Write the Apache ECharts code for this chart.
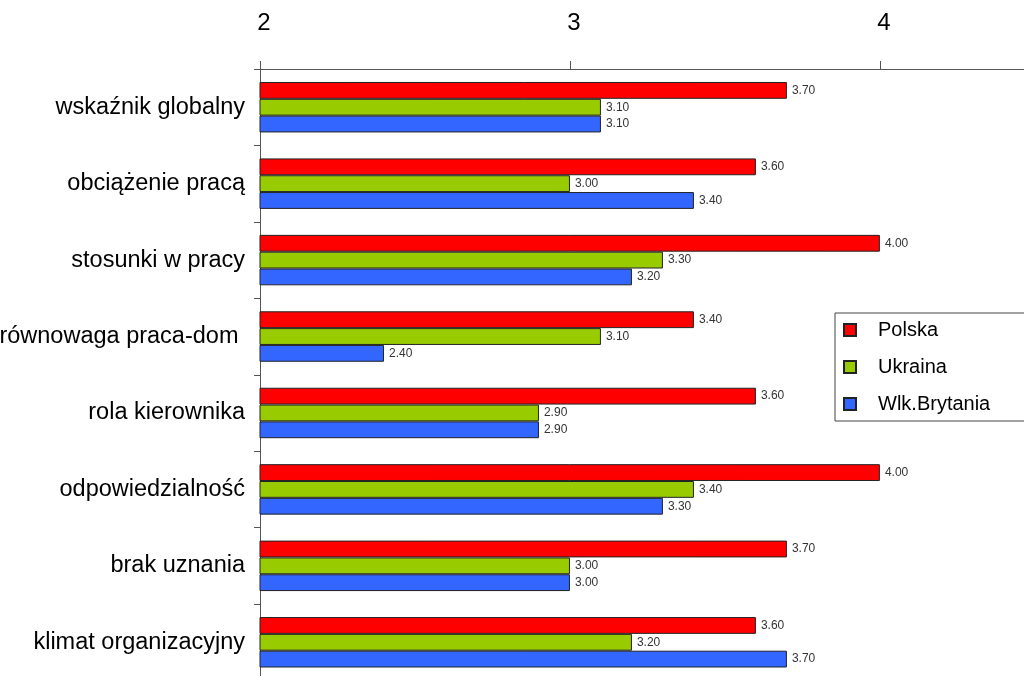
<!DOCTYPE html>
<html><head><meta charset="utf-8">
<script src="https://cdn.jsdelivr.net/npm/echarts@6/dist/echarts.min.js"></script>
<style>html,body{margin:0;padding:0;background:#fff;overflow:hidden}#c{width:1024px;height:676px}</style>
</head><body><div id="c"></div>
<script>
const categories = ['wskaźnik globalny','obciążenie pracą','stosunki w pracy','równowaga praca-dom ','rola kierownika','odpowiedzialność','brak uznania','klimat organizacyjny'];
const seriesNames = ['Polska','Ukraina','Wlk.Brytania'];
const polska = [3.70,3.60,4.00,3.40,3.60,4.00,3.70,3.60];
const ukraina = [3.10,3.00,3.30,3.10,2.90,3.40,3.00,3.20];
const wlkBrytania = [3.10,3.40,3.20,2.40,2.90,3.30,3.00,3.70];
const colors = ['#ff0000','#99cc00','#3366ff'];
const values = [polska, ukraina, wlkBrytania];

const sans = "'Liberation Sans', Arial, sans-serif";
const chart = echarts.init(document.getElementById('c'));
chart.setOption({
  animation: false,
  backgroundColor: '#fff',
  grid: {left: 260, top: 69, right: 0, bottom: -4.5, containLabel: false, outerBoundsMode: 'none'},
  legend: {
    orient: 'vertical', left: 835, top: 313,
    data: seriesNames,
    backgroundColor: '#fff', borderColor: '#444', borderWidth: 1,
    padding: [7, 60, 7, 8],
    itemWidth: 12, itemHeight: 12, itemGap: 17,
    icon: 'rect',
    textStyle: {fontFamily: sans, fontSize: 20, color: '#000', padding: [0,0,0,17]}
  },
  xAxis: {
    type: 'value', position: 'top', min: 2, max: 4.465, interval: 1,
    axisLine: {show: true, lineStyle: {color: '#555', width: 1}},
    axisTick: {show: true, length: 8, lineStyle: {color: '#555'}},
    splitLine: {show: false},
    axisLabel: {margin: 34, fontSize: 24, fontFamily: sans, color: '#000', padding: [0,0,0,8],
      formatter: v => (Math.abs(v - Math.round(v)) < 1e-9 ? String(v) : '')}
  },
  yAxis: {
    type: 'category', data: categories, inverse: true,
    axisLine: {show: true, lineStyle: {color: '#555', width: 1}},
    axisTick: {show: true, length: 6, lineStyle: {color: '#555'}},
    axisLabel: {margin: 15, fontSize: 23.5, fontFamily: sans, color: '#000'}
  },
  series: seriesNames.map((n, i) => ({
    name: n, type: 'bar', data: values[i],
    barGap: '0%', barCategoryGap: '34%',
    itemStyle: {color: colors[i], borderColor: '#222', borderWidth: 1},
    label: {show: true, position: 'right', distance: 5, fontSize: 12, fontFamily: sans, color: '#333',
      formatter: p => p.value.toFixed(2)}
  }))
});
</script></body></html>
